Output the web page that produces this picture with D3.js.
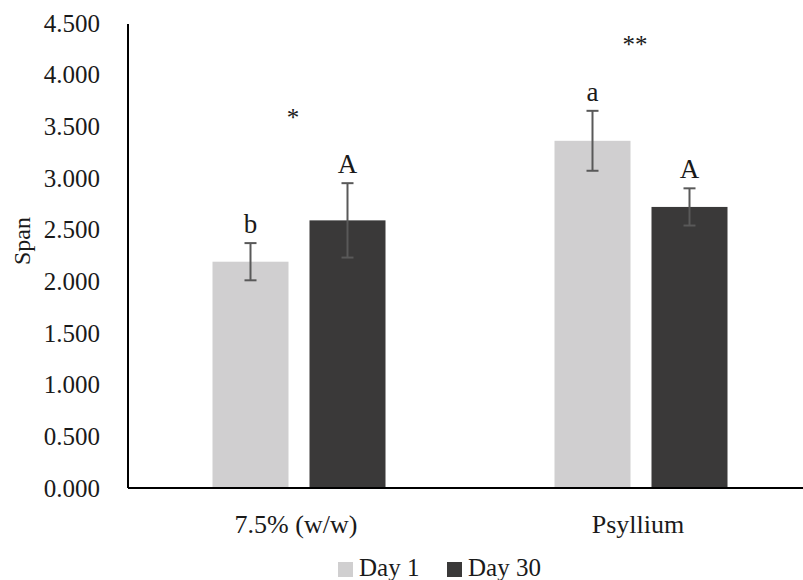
<!DOCTYPE html>
<html>
<head>
<meta charset="utf-8">
<script src="https://cdn.jsdelivr.net/npm/d3@7"></script>
<style>
  html, body { margin: 0; padding: 0; background: #fff; }
  svg { display: block; }
  svg text { font-family: "Liberation Serif", "DejaVu Serif", "Noto Serif", serif !important; fill: #1a1a1a; }
</style>
</head>
<body>
<svg id="chart" width="803" height="580"></svg>
<script>
// ---- data ----
const categories = ["7.5% (w/w)", "Psyllium"];
const seriesNames = ["Day 1", "Day 30"];
const day1Values = [2.19, 3.36];
const day30Values = [2.59, 2.72];
const day1Errors = [0.18, 0.29];
const day30Errors = [0.36, 0.18];
const day1Letters = ["b", "a"];
const day30Letters = ["A", "A"];
const sigMarks = ["*", "**"];
const sigLevels = [3.62, 4.33];
const yTicks = [0, 0.5, 1, 1.5, 2, 2.5, 3, 3.5, 4, 4.5];
const colors = ["#d0cfd0", "#3a3939"];

// ---- layout ----
const FONT = '"Liberation Serif", "DejaVu Serif", serif';
const svg = d3.select("#chart");
const margin = { left: 128, right: -9, top: 23, bottom: 92 };
const W = 803, H = 580;
const x0 = d3.scaleBand().domain(categories).range([margin.left, W - margin.right]);
const x1 = d3.scaleBand().domain(seriesNames).range([0, 173]).paddingInner(0.2165);
const y = d3.scaleLinear().domain([0, 4.5]).range([H - margin.bottom, margin.top]);

const rows = categories.map((c, i) => ({
  cat: c,
  bars: [
    { s: seriesNames[0], v: day1Values[i], e: day1Errors[i], l: day1Letters[i], c: colors[0] },
    { s: seriesNames[1], v: day30Values[i], e: day30Errors[i], l: day30Letters[i], c: colors[1] }
  ]
}));

// y axis labels
const yAxis = d3.axisLeft(y).tickValues(yTicks).tickFormat(d3.format(".3f")).tickSize(0).tickPadding(28);
const gy = svg.append("g").attr("transform", `translate(${margin.left},0)`).call(yAxis);
gy.attr("font-family", FONT);
gy.select(".domain").remove();
gy.selectAll("text").attr("font-family", FONT).style("font-size", "25px").attr("fill", "#1a1a1a");

// bars
const groups = svg.selectAll("g.grp").data(rows).enter().append("g")
  .attr("class", "grp")
  .attr("transform", d => `translate(${x0(d.cat) + x0.bandwidth() / 2 - 86.5},0)`);

groups.selectAll("rect").data(d => d.bars).enter().append("rect")
  .attr("x", d => x1(d.s))
  .attr("y", d => y(d.v))
  .attr("width", x1.bandwidth())
  .attr("height", d => y(0) - y(d.v))
  .attr("fill", d => d.c);

// error bars
const eb = groups.selectAll("g.eb").data(d => d.bars).enter().append("g").attr("class", "eb");
eb.append("line")
  .attr("x1", d => x1(d.s) + x1.bandwidth() / 2).attr("x2", d => x1(d.s) + x1.bandwidth() / 2)
  .attr("y1", d => y(d.v + d.e)).attr("y2", d => y(d.v - d.e))
  .attr("stroke", "#595959").attr("stroke-width", 2);
eb.selectAll("line.cap").data(d => [d.v + d.e, d.v - d.e].map(val => ({ d, val }))).enter().append("line")
  .attr("class", "cap")
  .attr("x1", o => x1(o.d.s) + x1.bandwidth() / 2 - 6).attr("x2", o => x1(o.d.s) + x1.bandwidth() / 2 + 6)
  .attr("y1", o => y(o.val)).attr("y2", o => y(o.val))
  .attr("stroke", "#595959").attr("stroke-width", 2);

// letters
groups.selectAll("text.letter").data(d => d.bars).enter().append("text")
  .attr("class", "letter")
  .attr("x", d => x1(d.s) + x1.bandwidth() / 2)
  .attr("y", d => y(d.v + d.e) - 10)
  .attr("text-anchor", "middle")
  .attr("font-family", FONT)
  .style("font-size", "27px")
  .text(d => d.l);

// significance marks
svg.selectAll("text.sig").data(categories).enter().append("text")
  .attr("class", "sig")
  .attr("x", d => x0(d) + x0.bandwidth() / 2 - 6)
  .attr("y", (d, i) => y(sigLevels[i]) + 12)
  .attr("text-anchor", "middle")
  .attr("font-family", FONT)
  .style("font-size", "25px")
  .text((d, i) => sigMarks[i]);

// axes lines
svg.append("line").attr("x1", margin.left).attr("x2", W).attr("y1", y(0)).attr("y2", y(0))
  .attr("stroke", "#000").attr("stroke-width", 2);
svg.append("line").attr("x1", margin.left).attr("x2", margin.left).attr("y1", y(4.5) + 1).attr("y2", y(0))
  .attr("stroke", "#000").attr("stroke-width", 2);

// category labels
svg.selectAll("text.cat").data(categories).enter().append("text")
  .attr("class", "cat")
  .attr("x", d => x0(d) + x0.bandwidth() / 2 - 3)
  .attr("y", 533)
  .attr("text-anchor", "middle")
  .attr("font-family", FONT)
  .style("font-size", "26px")
  .text(d => d);

// y title
svg.append("text")
  .attr("transform", "translate(30,241) rotate(-90)")
  .attr("text-anchor", "middle")
  .attr("font-family", FONT)
  .style("font-size", "24px")
  .text("Span");

// legend
const legendX = [338, 447];
const lg = svg.selectAll("g.lg").data(seriesNames).enter().append("g")
  .attr("class", "lg")
  .attr("transform", (d, i) => `translate(${legendX[i]},0)`);
lg.append("rect").attr("x", 0).attr("y", 562).attr("width", 15).attr("height", 15).attr("fill", (d, i) => colors[i]);
lg.append("text").attr("x", 21).attr("y", 576).attr("font-family", FONT).style("font-size", "25px").text(d => d);
</script>
</body>
</html>
